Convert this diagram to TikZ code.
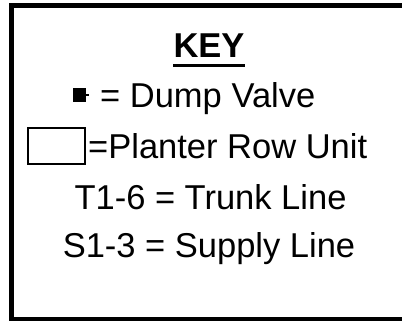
\documentclass[tikz,border=0pt]{standalone}
\usepackage{fontspec}
\setmainfont{Liberation Sans}
\usepackage{tikz}
\usetikzlibrary{positioning}

\begin{document}
\begin{tikzpicture}[
  x=1pt, y=-1pt,
  keytext/.style={inner sep=0pt, font=\fontsize{34.5}{40}\selectfont},
  frame/.style={draw, line width=5pt},
  rowunit/.style={draw, line width=1.3pt},
  valve/.style={fill=black}
]
\clip (0,0) rectangle (402,321);

% outer frame (right edge runs off the page)
\draw[frame] (11.5,5.5) rectangle (420,319);

\node[keytext, font=\fontsize{34.5}{40}\selectfont\bfseries, anchor=base] (key) at (209,58) {KEY};
\draw[line width=3pt] ([yshift=-7.5pt]key.base west) -- ([yshift=-7.5pt]key.base east);

% symbols
\node[valve, inner sep=0pt, minimum width=13pt, minimum height=14pt] (dump) at (79.5,95) {};
\draw[line width=1.5pt] (dump.east) -- ++(3,0);
\node[rowunit, inner sep=0pt, minimum width=57pt, minimum height=36pt] (unit) at (56.5,146) {};

\node[keytext, anchor=base west] (dumptxt) at (100,108) {= Dump Valve};
\node[keytext, anchor=base west] (unittxt) at (88,158) {=Planter Row Unit};
\node[keytext, anchor=base] (trunk) at (210.5,209) {T1-6 = Trunk Line};
\node[keytext, anchor=base] (supply) at (209,257) {S1-3 = Supply Line};

\end{tikzpicture}
\end{document}
